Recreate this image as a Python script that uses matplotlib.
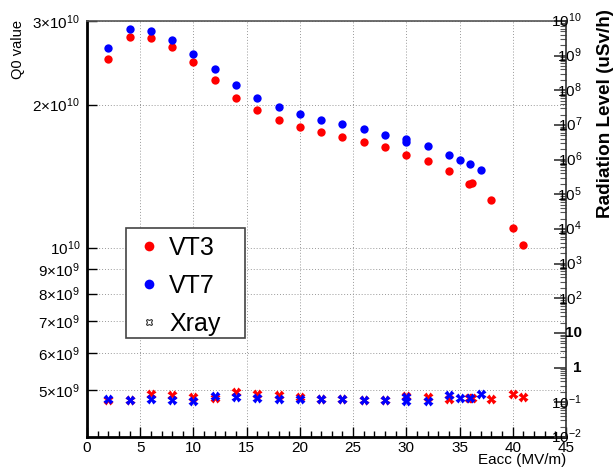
import matplotlib
matplotlib.use("Agg")
import matplotlib.pyplot as plt
from matplotlib.ticker import FixedLocator, MultipleLocator, LogLocator, NullFormatter
from matplotlib.lines import Line2D
import matplotlib.patches as mpatches
import matplotlib.transforms as mtransforms

plt.rcParams.update({
    'font.family': ['Liberation Sans', 'DejaVu Sans'],
    'mathtext.fontset': 'custom',
    'mathtext.rm': 'Liberation Sans',
    'mathtext.it': 'Liberation Sans:italic',
    'mathtext.bf': 'Liberation Sans:bold',
})

# --- data ---
vt3_x = [2, 4, 6, 8, 10, 12, 14, 16, 18, 20, 22, 24, 26, 28, 30, 32, 34, 35.9, 36.2, 38, 40, 41]
vt3_q0 = [2.50e10, 2.77e10, 2.76e10, 2.65e10, 2.46e10, 2.25e10, 2.07e10, 1.95e10, 1.86e10, 1.79e10,
          1.75e10, 1.71e10, 1.67e10, 1.63e10, 1.57e10, 1.52e10, 1.45e10, 1.36e10, 1.37e10, 1.26e10,
          1.10e10, 1.01e10]
vt3_xray = [0.117, 0.117, 0.171, 0.160, 0.145, 0.133, 0.195, 0.174, 0.160, 0.145, 0.127, 0.122,
            0.117, 0.117, 0.155, 0.145, 0.125, 0.130, 0.131, 0.125, 0.171, 0.145]

vt7_x = [2, 4, 6, 8, 10, 12, 14, 16, 18, 20, 22, 24, 26, 28, 30, 30, 32, 34, 35, 36, 37]
vt7_q0 = [2.63e10, 2.89e10, 2.86e10, 2.74e10, 2.56e10, 2.38e10, 2.20e10, 2.07e10, 1.98e10, 1.91e10,
          1.86e10, 1.82e10, 1.78e10, 1.73e10, 1.69e10, 1.67e10, 1.64e10, 1.57e10, 1.53e10, 1.50e10,
          1.46e10]
vt7_xray = [0.122, 0.120, 0.122, 0.117, 0.111, 0.152, 0.140, 0.131, 0.127, 0.125, 0.122, 0.122,
            0.117, 0.117, 0.140, 0.110, 0.109, 0.163, 0.136, 0.131, 0.171]

q0_ticks = [5e9, 6e9, 7e9, 8e9, 9e9, 1e10, 2e10, 3e10]
q0_labels = [r'$5{\times}10^{9}$', r'$6{\times}10^{9}$', r'$7{\times}10^{9}$', r'$8{\times}10^{9}$',
             r'$9{\times}10^{9}$', r'$10^{10}$', r'$2{\times}10^{10}$', r'$3{\times}10^{10}$']
rad_ticks = [1e10, 1e9, 1e8, 1e7, 1e6, 1e5, 1e4, 1e3, 1e2, 10, 1, 0.1, 0.01]
rad_labels = [r'$10^{10}$', r'$10^{9}$', r'$10^{8}$', r'$10^{7}$', r'$10^{6}$', r'$10^{5}$',
              r'$10^{4}$', r'$10^{3}$', r'$10^{2}$', '10', '1', r'$10^{-1}$', r'$10^{-2}$']

RED = '#ff0000'
BLUE = '#0000ff'
W, H = 615, 468

fig = plt.figure(figsize=(6.15, 4.68), dpi=100)
ax = fig.add_axes([87 / W, 1 - 437 / H, (566 - 87) / W, (437 - 21) / H])

ax.plot(vt3_x, vt3_q0, 'o', color=RED, ms=6, mec='none', zorder=3)
ax.plot(vt7_x, vt7_q0, 'o', color=BLUE, ms=6, mec='none', zorder=3)

ax.set_xlim(0, 45)
ax.set_yscale('log')
ax.set_ylim(3.99e9, 3e10)
ax.yaxis.set_major_locator(FixedLocator(q0_ticks))
ax.set_yticklabels(q0_labels)
ax.yaxis.set_minor_locator(FixedLocator([]))
ax.yaxis.set_minor_formatter(NullFormatter())
ax.xaxis.set_major_locator(MultipleLocator(5))
ax.xaxis.set_minor_locator(MultipleLocator(1))
ax.tick_params(axis='both', which='major', direction='in', labelsize=11, width=1, length=7, pad=5)
ax.tick_params(axis='x', which='major', pad=3)
ax.tick_params(axis='x', which='minor', direction='in', length=4, width=1)
ax.tick_params(axis='y', right=False)
ax.grid(True, which='major', linestyle=(0, (1, 2)), color='#999999', lw=0.7)

for side in ['left', 'bottom']:
    ax.spines[side].set_linewidth(2)
ax.spines['top'].set_color('#555555')
ax.spines['top'].set_linewidth(1.2)
ax.spines['right'].set_visible(False)

# axis titles placed like the ROOT canvas
fig.text(566 / W, 1 - 460 / H, 'Eacc (MV/m)', ha='right', va='center', fontsize=11)
fig.text(18 / W, 1 - 20 / H, 'Q0 value', rotation=90, ha='center', va='top', fontsize=10.5)
fig.text(606 / W, 1 - 9 / H, 'Radiation Level (uSv/h)', rotation=90,
         ha='center', va='top', fontsize=13.6, fontweight='bold')

# radiation axis on the right
ax2 = ax.twinx()
ax2.set_yscale('log')
ax2.set_ylim(1e-2, 1e10)
ax2.plot(vt3_x, vt3_xray, 'X', color=RED, ms=6.5, mec='none', zorder=3)
ax2.plot(vt7_x, vt7_xray, 'X', color=BLUE, ms=6.5, mec='none', zorder=4)
ax2.yaxis.set_major_locator(FixedLocator(rad_ticks))
ax2.yaxis.set_minor_locator(LogLocator(base=10, subs=range(2, 10), numticks=100))
ax2.yaxis.set_minor_formatter(NullFormatter())
ax2.set_yticklabels([])
ax2.tick_params(axis='y', which='major', direction='in', length=9, width=1.2, color='#333333')
ax2.tick_params(axis='y', which='minor', direction='in', length=4, width=0.8, color='#555555')
ax2.spines['right'].set_color('#333333')
ax2.spines['right'].set_linewidth(1.2)
for side in ['left', 'top', 'bottom']:
    ax2.spines[side].set_visible(False)

trans = mtransforms.blended_transform_factory(ax2.transAxes, ax2.transData)
offset = mtransforms.ScaledTranslation(16 / 100, 0, fig.dpi_scale_trans)
for val, lab in zip(rad_ticks, rad_labels):
    ax2.text(1.0, val, lab, transform=trans + offset, ha='right', va='center',
             fontsize=11, fontweight='bold', clip_on=False)

# legend: framed box drawn separately so the padding matches
box = mpatches.Rectangle((126 / W, 1 - 338 / H), (245 - 126) / W, (338 - 228) / H,
                         transform=fig.transFigure, facecolor='white', edgecolor='#444444',
                         lw=1.2, zorder=5)
fig.add_artist(box)
handles = [
    Line2D([], [], ls='none', marker='o', color=RED, mec='none', ms=7),
    Line2D([], [], ls='none', marker='o', color=BLUE, mec='none', ms=7),
    Line2D([], [], ls='none', marker='X', mfc='white', mec='#333333', mew=0.8, ms=5),
]
leg = fig.legend(handles, ['VT3', 'VT7', 'Xray'], loc='upper left',
                 bbox_to_anchor=(133 / W, 1 - 231 / H), bbox_transform=fig.transFigure,
                 fontsize=18, frameon=False, borderpad=0.2, labelspacing=0.55,
                 handlelength=0.9, handletextpad=0.35, borderaxespad=0)
leg.set_zorder(6)

fig.savefig('out.png', dpi=100)
